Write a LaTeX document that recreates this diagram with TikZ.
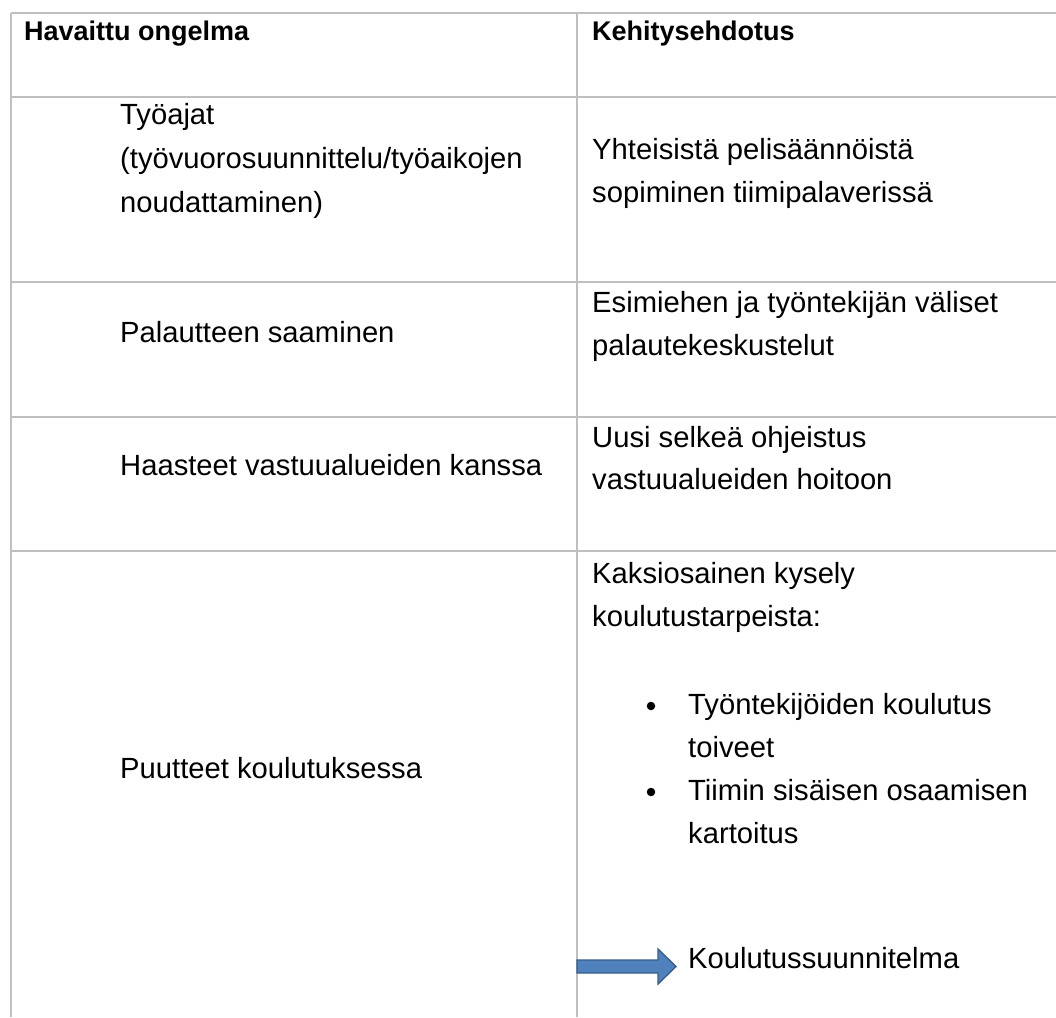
\documentclass[tikz,border=0pt]{standalone}
\usepackage{fontspec}
\setmainfont{Liberation Sans}
\definecolor{gridgray}{HTML}{BFBFBF}
\definecolor{arrowfill}{HTML}{4F81BD}
\definecolor{arrowedge}{HTML}{3A5F8B}
\begin{document}
\begin{tikzpicture}[x=1pt,y=-1pt,
  txt/.style={anchor=base west, inner sep=0pt, font=\fontsize{29.2}{34}\selectfont},
  hdr/.style={anchor=base west, inner sep=0pt, font=\fontsize{27}{34}\selectfont\bfseries},
  rule/.style={draw=gridgray, line width=1.5pt},
  bul/.style={fill=black, circle, inner sep=0pt, minimum size=8.5pt}]
\useasboundingbox (0,0) rectangle (1056,1017);
\fill[white] (0,0) rectangle (1056,1017);
% grid
\draw[rule] (11,13) -- (1056,13);
\draw[rule] (11,97) -- (1056,97);
\draw[rule] (11,282) -- (1056,282);
\draw[rule] (11,417) -- (1056,417);
\draw[rule] (11,551) -- (1056,551);
\draw[rule] (11,13) -- (11,1017);
\draw[rule] (577,13) -- (577,1017);
% header
\node[hdr] (h1) at (24,40) {Havaittu ongelma};
\node[hdr] (h2) at (592,40) {Kehitysehdotus};
% row 1
\node[txt] (r1a) at (120,124) {Työajat};
\node[txt] (r1b) at (120,168) {(työvuorosuunnittelu/työaikojen};
\node[txt] (r1c) at (120,212) {noudattaminen)};
\node[txt] (r1d) at (592,159) {Yhteisistä pelisäännöistä};
\node[txt] (r1e) at (592,202) {sopiminen tiimipalaverissä};
% row 2
\node[txt] (r2a) at (120,342) {Palautteen saaminen};
\node[txt] (r2b) at (592,312) {Esimiehen ja työntekijän väliset};
\node[txt] (r2c) at (592,355) {palautekeskustelut};
% row 3
\node[txt] (r3a) at (120,475) {Haasteet vastuualueiden kanssa};
\node[txt] (r3b) at (592,447) {Uusi selkeä ohjeistus};
\node[txt] (r3c) at (592,489) {vastuualueiden hoitoon};
% row 4
\node[txt] (r4a) at (120,778) {Puutteet koulutuksessa};
\node[txt] (r4b) at (592,583) {Kaksiosainen kysely};
\node[txt] (r4c) at (592,626) {koulutustarpeista:};
\node[bul] (b1) at (651,706) {};
\node[txt] (r4d) at (688,714) {Työntekijöiden koulutus};
\node[txt] (r4e) at (688,757) {toiveet};
\node[bul] (b2) at (651,792) {};
\node[txt] (r4f) at (688,800) {Tiimin sisäisen osaamisen};
\node[txt] (r4g) at (688,843) {kartoitus};
\node[txt] (r4h) at (688,968) {Koulutussuunnitelma};
% arrow
\draw[fill=arrowfill, draw=arrowedge, line width=1.4pt, line join=miter]
  (577,960) -- (658,960) -- (658,949) -- (676,966.5) -- (658,984) -- (658,973) -- (577,973) -- cycle;
\end{tikzpicture}
\end{document}
